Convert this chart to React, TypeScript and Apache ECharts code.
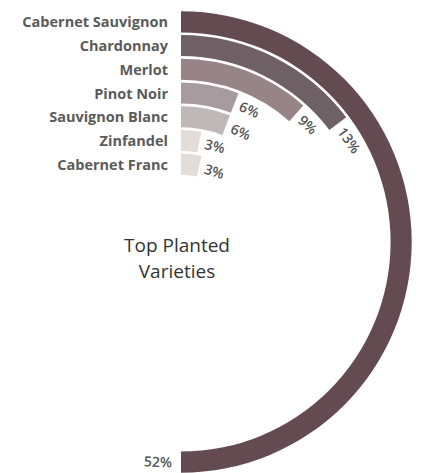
import React, { useEffect, useRef } from "react";
import * as echarts from "echarts";

// inner ring -> outer ring
const categories = [
  "Cabernet Franc",
  "Zinfandel",
  "Sauvignon Blanc",
  "Pinot Noir",
  "Merlot",
  "Chardonnay",
  "Cabernet Sauvignon",
];
// share labels shown at the end of each arc
const shareLabels = ["3%", "3%", "6%", "6%", "9%", "13%", "52%"];
// arc lengths (angle scale: 104 = full circle, 52 = half)
const barValues = [3.9, 3.0, 6.1, 6.1, 12.1, 15.3, 52];
const barColors = ["#e2ddd8", "#e2ddd8", "#c0b7b7", "#a89b9f", "#968487", "#6f6066", "#634b51"];
const titleLines = ["Top Planted", "Varieties"];

export default function App() {
  const ref = useRef<HTMLDivElement>(null);
  useEffect(() => {
    document.body.style.margin = "0";
    const chart = echarts.init(ref.current!, null, { renderer: "svg" });
    const labelFont = "'Open Sans', 'Noto Sans', sans-serif";
    chart.setOption({
      animation: false,
      polar: { center: [181, 242], radius: [66, 232] },
      angleAxis: {
        type: "value",
        min: 0,
        max: 104,
        startAngle: 90,
        clockwise: true,
        show: false,
      },
      radiusAxis: {
        type: "category",
        data: categories,
        axisLine: { show: false },
        axisTick: { show: false },
        splitLine: { show: false },
        axisLabel: {
          inside: true,
          interval: 0,
          margin: 13,
          color: "#5b5b5b",
          fontWeight: "bold",
          fontSize: 14.5,
          fontFamily: labelFont,
        },
        z: 5,
      },
      graphic: [
        {
          type: "text",
          x: 177,
          y: 232,
          style: {
            text: titleLines.join("\n"),
            fontSize: 19,
            lineHeight: 26,
            fontFamily: labelFont,
            fill: "#333",
            align: "center",
            verticalAlign: "top",
          },
        },
      ],
      series: [
        {
          type: "bar",
          coordinateSystem: "polar",
          barCategoryGap: "11%",
          data: barValues.map((v, i) => ({ value: v, itemStyle: { color: barColors[i] } })),
        },
        {
          type: "custom",
          coordinateSystem: "polar",
          data: barValues.map((v, i) => [i, v]),
          renderItem: (params: any, api: any) => {
            const i = api.value(0);
            const v = api.value(1);
            const cs = params.coordSys;
            const p = api.coord([i, v]);
            const dx = p[0] - cs.cx;
            const dy = p[1] - cs.cy;
            const r = Math.sqrt(dx * dx + dy * dy);
            const theta = Math.atan2(dx, -dy);
            const flip = theta > Math.PI / 2 + 0.3;
            const th = theta + (flip ? 9 : 6) / r;
            const x = cs.cx + r * Math.sin(th);
            const y = cs.cy - r * Math.cos(th);
            return {
              type: "text",
              x,
              y,
              rotation: flip ? Math.PI - th : -th,
              style: {
                text: shareLabels[i],
                x: 0,
                y: 0,
                align: flip ? "right" : "left",
                verticalAlign: "middle",
                fontSize: 14,
                fontWeight: 600,
                fontFamily: labelFont,
                fill: "#555",
              },
            };
          },
          z: 6,
        },
      ],
    });
    return () => chart.dispose();
  }, []);
  return <div ref={ref} style={{ width: 421, height: 473 }} />;
}
